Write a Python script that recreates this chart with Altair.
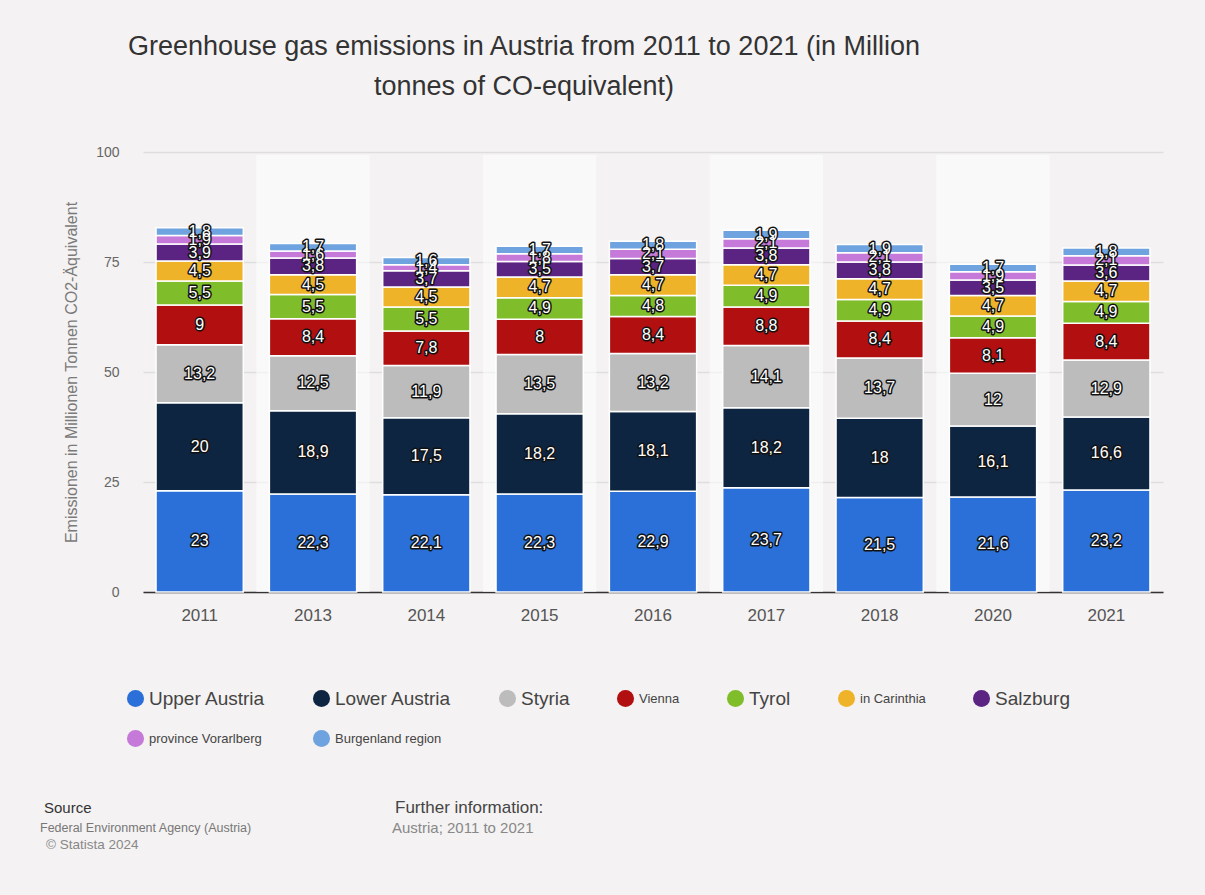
import altair as alt
import pandas as pd

years = ["2011", "2013", "2014", "2015", "2016", "2017", "2018", "2020", "2021"]
regions = ["Upper Austria", "Lower Austria", "Styria", "Vienna", "Tyrol",
           "in Carinthia", "Salzburg", "province Vorarlberg", "Burgenland region"]
colors = ["#2a70d8", "#0e2542", "#bcbcbc", "#b10f10", "#80bd2b",
          "#efb32a", "#5b2482", "#c57ad9", "#6ea3df"]

upper_austria = [23, 22.3, 22.1, 22.3, 22.9, 23.7, 21.5, 21.6, 23.2]
lower_austria = [20, 18.9, 17.5, 18.2, 18.1, 18.2, 18, 16.1, 16.6]
styria = [13.2, 12.5, 11.9, 13.5, 13.2, 14.1, 13.7, 12, 12.9]
vienna = [9, 8.4, 7.8, 8, 8.4, 8.8, 8.4, 8.1, 8.4]
tyrol = [5.5, 5.5, 5.5, 4.9, 4.8, 4.9, 4.9, 4.9, 4.9]
carinthia = [4.5, 4.5, 4.5, 4.7, 4.7, 4.7, 4.7, 4.7, 4.7]
salzburg = [3.9, 3.8, 3.7, 3.5, 3.7, 3.8, 3.8, 3.5, 3.6]
vorarlberg = [1.9, 1.6, 1.4, 1.8, 2.1, 2.1, 2.1, 1.9, 2.1]
burgenland = [1.8, 1.7, 1.6, 1.7, 1.8, 1.9, 1.9, 1.7, 1.8]

series = [upper_austria, lower_austria, styria, vienna, tyrol,
          carinthia, salzburg, vorarlberg, burgenland]

rows = []
for i, (reg, vals) in enumerate(zip(regions, series)):
    for y, v in zip(years, vals):
        rows.append({"year": y, "region": reg, "order": i, "value": v})
df = pd.DataFrame(rows)

band_df = pd.DataFrame({"year": [y for k, y in enumerate(years) if k % 2 == 1]})

FONT = "Liberation Sans"

x_bars = alt.X("year:N", sort=years,
               scale=alt.Scale(domain=years, paddingInner=0.23, paddingOuter=0.115),
               axis=alt.Axis(title=None, labelAngle=0, ticks=False, domainColor="#333333",
                             domainWidth=1.5, labelColor="#555555", labelFontSize=17,
                             labelFont=FONT, labelPadding=15, grid=False))

bands = alt.Chart(band_df).mark_bar(color="white", opacity=0.55).encode(
    x=alt.X("year:N", sort=years, scale=alt.Scale(domain=years, paddingInner=0, paddingOuter=0),
            axis=None),
    y=alt.datum(0),
    y2=alt.datum(99.4),
)

base = alt.Chart(df).transform_stack(
    stack="value", groupby=["year"], as_=["y0", "y1"],
    sort=[alt.SortField("order", order="ascending")]
).transform_calculate(
    mid="(datum.y0 + datum.y1) / 2",
    label="replace(toString(datum.value), '.', ',')"
)

legend_size = ("indexof(['Vienna','in Carinthia','province Vorarlberg','Burgenland region'], "
               "datum.label) >= 0 ? 13 : 19")

bars = base.mark_bar(stroke="white", strokeWidth=1.5).encode(
    x=x_bars,
    y=alt.Y("y0:Q", scale=alt.Scale(domain=[0, 100]),
            axis=alt.Axis(values=[0, 25, 50, 75, 100], grid=True, gridColor="#dedede",
                          gridWidth=1.5, domain=False, ticks=False, labelColor="#666666",
                          labelFontSize=14, labelFont=FONT, labelPadding=24,
                          title="Emissionen in Millionen Tonnen CO2-Äquivalent",
                          titleColor="#7a7a7a", titleFontSize=16, titleFont=FONT,
                          titleFontWeight="normal", titlePadding=16)),
    y2="y1:Q",
    color=alt.Color("region:N", sort=regions,
                    scale=alt.Scale(domain=regions, range=colors),
                    legend=alt.Legend(title=None, orient="none", legendX=-17, legendY=537,
                                      direction="horizontal", columns=7, gridAlign="none",
                                      symbolType="circle", symbolSize=290,
                                      symbolStrokeWidth=0, symbolOpacity=1,
                                      labelFont=FONT, labelColor="#444444",
                                      labelFontSize=alt.ExprRef(legend_size),
                                      labelOffset=4, columnPadding=46, rowPadding=20,
                                      labelLimit=300)),
)

label_outline = base.mark_text(font=FONT, fontSize=16, stroke="#111111", strokeWidth=3,
                               strokeJoin="round", fill="#111111").encode(
    x=x_bars, y=alt.Y("mid:Q"), text="label:N")
label_fill = base.mark_text(font=FONT, fontSize=16, fill="white").encode(
    x=x_bars, y=alt.Y("mid:Q"), text="label:N")

one = alt.Data(values=[{}])


def note(text, x, y, size, color):
    return alt.Chart(one).mark_text(text=text, align="left", baseline="middle",
                                    font=FONT, fontSize=size, color=color).encode(
        x=alt.value(x), y=alt.value(y))


notes = [
    note("Source", -99, 656, 15, "#333333"),
    note("Federal Environment Agency (Austria)", -103, 676, 12.5, "#777777"),
    note("© Statista 2024", -97, 693, 13.5, "#888888"),
    note("Further information:", 252, 656, 17, "#444444"),
    note("Austria; 2011 to 2021", 249, 676, 15, "#888888"),
]

inner = alt.layer(bars, label_outline, label_fill, *notes)

chart = alt.layer(bands, inner).resolve_scale(
    x="independent"
).properties(
    width=1020, height=440,
    autosize=alt.AutoSizeParams(type="none"),
    padding={"left": 143, "top": 152, "right": 42, "bottom": 303},
    background="#f4f2f2",
    title=alt.TitleParams(
        text=["Greenhouse gas emissions in Austria from 2011 to 2021 (in Million",
              "tonnes of CO-equivalent)"],
        font=FONT, fontSize=27, fontWeight="normal", color="#333333",
        lineHeight=40, anchor="middle", frame="group", dx=-129, offset=44),
).configure_view(stroke=None)

chart.save("out.html", embed_options={"renderer": "svg", "actions": False})
